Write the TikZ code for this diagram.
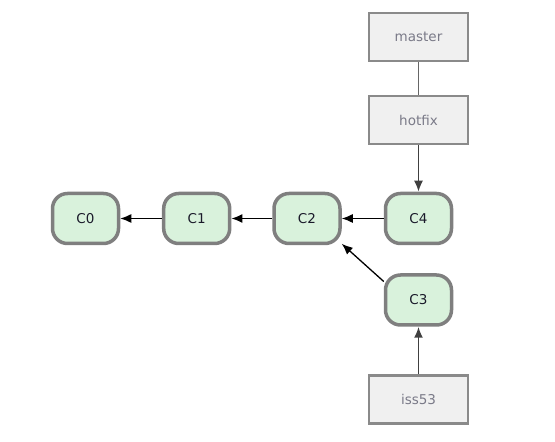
\documentclass[tikz,border=0pt]{standalone}
\usepackage{fontspec}
\setmainfont{DejaVu Sans}
\usetikzlibrary{arrows.meta}
\definecolor{cfill}{HTML}{D9F2DC}
\definecolor{cdraw}{HTML}{7F7F7F}
\definecolor{bfill}{HTML}{F0F0F0}
\definecolor{bdraw}{HTML}{8A8A8A}
\definecolor{btext}{HTML}{7A7A88}
\definecolor{ctext}{HTML}{1A1A2A}
\tikzset{
  commit/.style={draw=cdraw, fill=cfill, line width=3.5pt, rounded corners=15pt,
    minimum width=66pt, minimum height=50pt, inner sep=0pt, font=\fontsize{13.5}{16}\selectfont, text=ctext},
  branch/.style={draw=bdraw, fill=bfill, line width=2.8pt,
    minimum width=99pt, minimum height=48pt, inner sep=0pt, font=\fontsize{13.5}{16}\selectfont, text=btext},
  parent/.style={line width=1.3pt, draw=black, -{Latex[length=11pt,width=9pt]}},
  ref/.style={line width=1.8pt, draw=black!75, -{Latex[length=11pt,width=9pt]}},
  link/.style={line width=1.8pt, draw=black!60}
}
\begin{document}
\begin{tikzpicture}[x=1pt,y=1pt]
\useasboundingbox (0,0) rectangle (555,442);
\node[commit] (C0) at (85.5,223.5) {C0};
\node[commit] (C1) at (196.7,223.5) {C1};
\node[commit] (C2) at (307,223.5) {C2};
\node[commit] (C4) at (418.5,223.5) {C4};
\node[commit] (C3) at (418.5,142) {C3};
\node[branch] (master) at (418.5,405) {master};
\node[branch] (hotfix) at (418.5,322) {hotfix};
\node[branch] (iss53) at (418.5,42.5) {iss53};
\draw[parent] (C1.west) -- (C0.east);
\draw[parent] (C2.west) -- (C1.east);
\draw[parent] (C4.west) -- (C2.east);
\draw[parent] (C3.152) -- (C2.-36);
\draw[link] (master.south) -- (hotfix.north);
\draw[ref] (hotfix.south) -- (C4.north);
\draw[ref] (iss53.north) -- (C3.south);
\end{tikzpicture}
\end{document}
